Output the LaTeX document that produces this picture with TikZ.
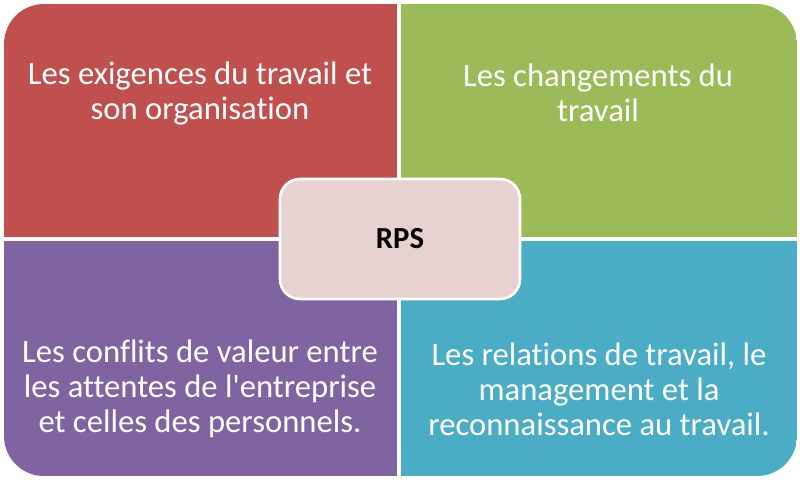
\documentclass[tikz,border=0pt]{standalone}
\usepackage{fontspec}
\newfontfamily\calib[Ligatures=NoCommon]{Carlito}
\usetikzlibrary{positioning}
\definecolor{quadred}{HTML}{C0504D}
\definecolor{quadgreen}{HTML}{9BBB59}
\definecolor{quadviolet}{HTML}{8064A2}
\definecolor{quadblue}{HTML}{4BACC6}
\definecolor{centerpink}{HTML}{E8D1D1}
\tikzset{
  % --- quadrant texts ---
  quadtext/.style={text=white, align=center, inner sep=0pt,
    font=\calib\fontsize{24.5}{26.3}\selectfont},
  % --- central box ---
  centerbox/.style={draw=white, line width=2pt, fill=centerpink,
    rounded corners=15pt, minimum width=180pt, minimum height=90pt,
    font=\calib\fontsize{23}{26.5}\selectfont\bfseries, text=black},
  divider/.style={draw=white, line width=2.5pt},
}

\begin{document}
\begin{tikzpicture}[x=0.75pt, y=-0.75pt]
    \useasboundingbox (0,0) rectangle (800,480);
    % ---- Quadrants ----
    \begin{scope}
      \clip[rounded corners=30pt] (4,4) rectangle (797,476);
      \fill[quadred] (4,4) rectangle (399,240);
      \fill[quadgreen] (399,4) rectangle (797,240);
      \fill[quadviolet] (4,240) rectangle (399,476);
      \fill[quadblue] (399,240) rectangle (797,476);
    \end{scope}
    \coordinate (midtop) at (399,4);
    \coordinate (midbot) at (399,476);
    \coordinate (midleft) at (4,239);
    \coordinate (midright) at (797,239);
    \draw[divider] (midtop) -- (midbot);
    \draw[divider] (midleft) -- (midright);
    % ---- Texts ----
    \node[quadtext] (exig) at (200,93) {Les exigences du travail et\\son organisation};
    \node[quadtext] (chang) at (598,93) {Les changements du\\travail};
    \node[quadtext] (confl) at (200,389) {Les conflits de valeur entre\\les attentes de l'entreprise\\et celles des personnels.};
    \node[quadtext] (relat) at (599,389) {Les relations de travail, le\\management et la\\reconnaissance au travail.};
    % ---- Centre ----
    \node[centerbox] (rps) at (400,239) {RPS};
\end{tikzpicture}
\end{document}
